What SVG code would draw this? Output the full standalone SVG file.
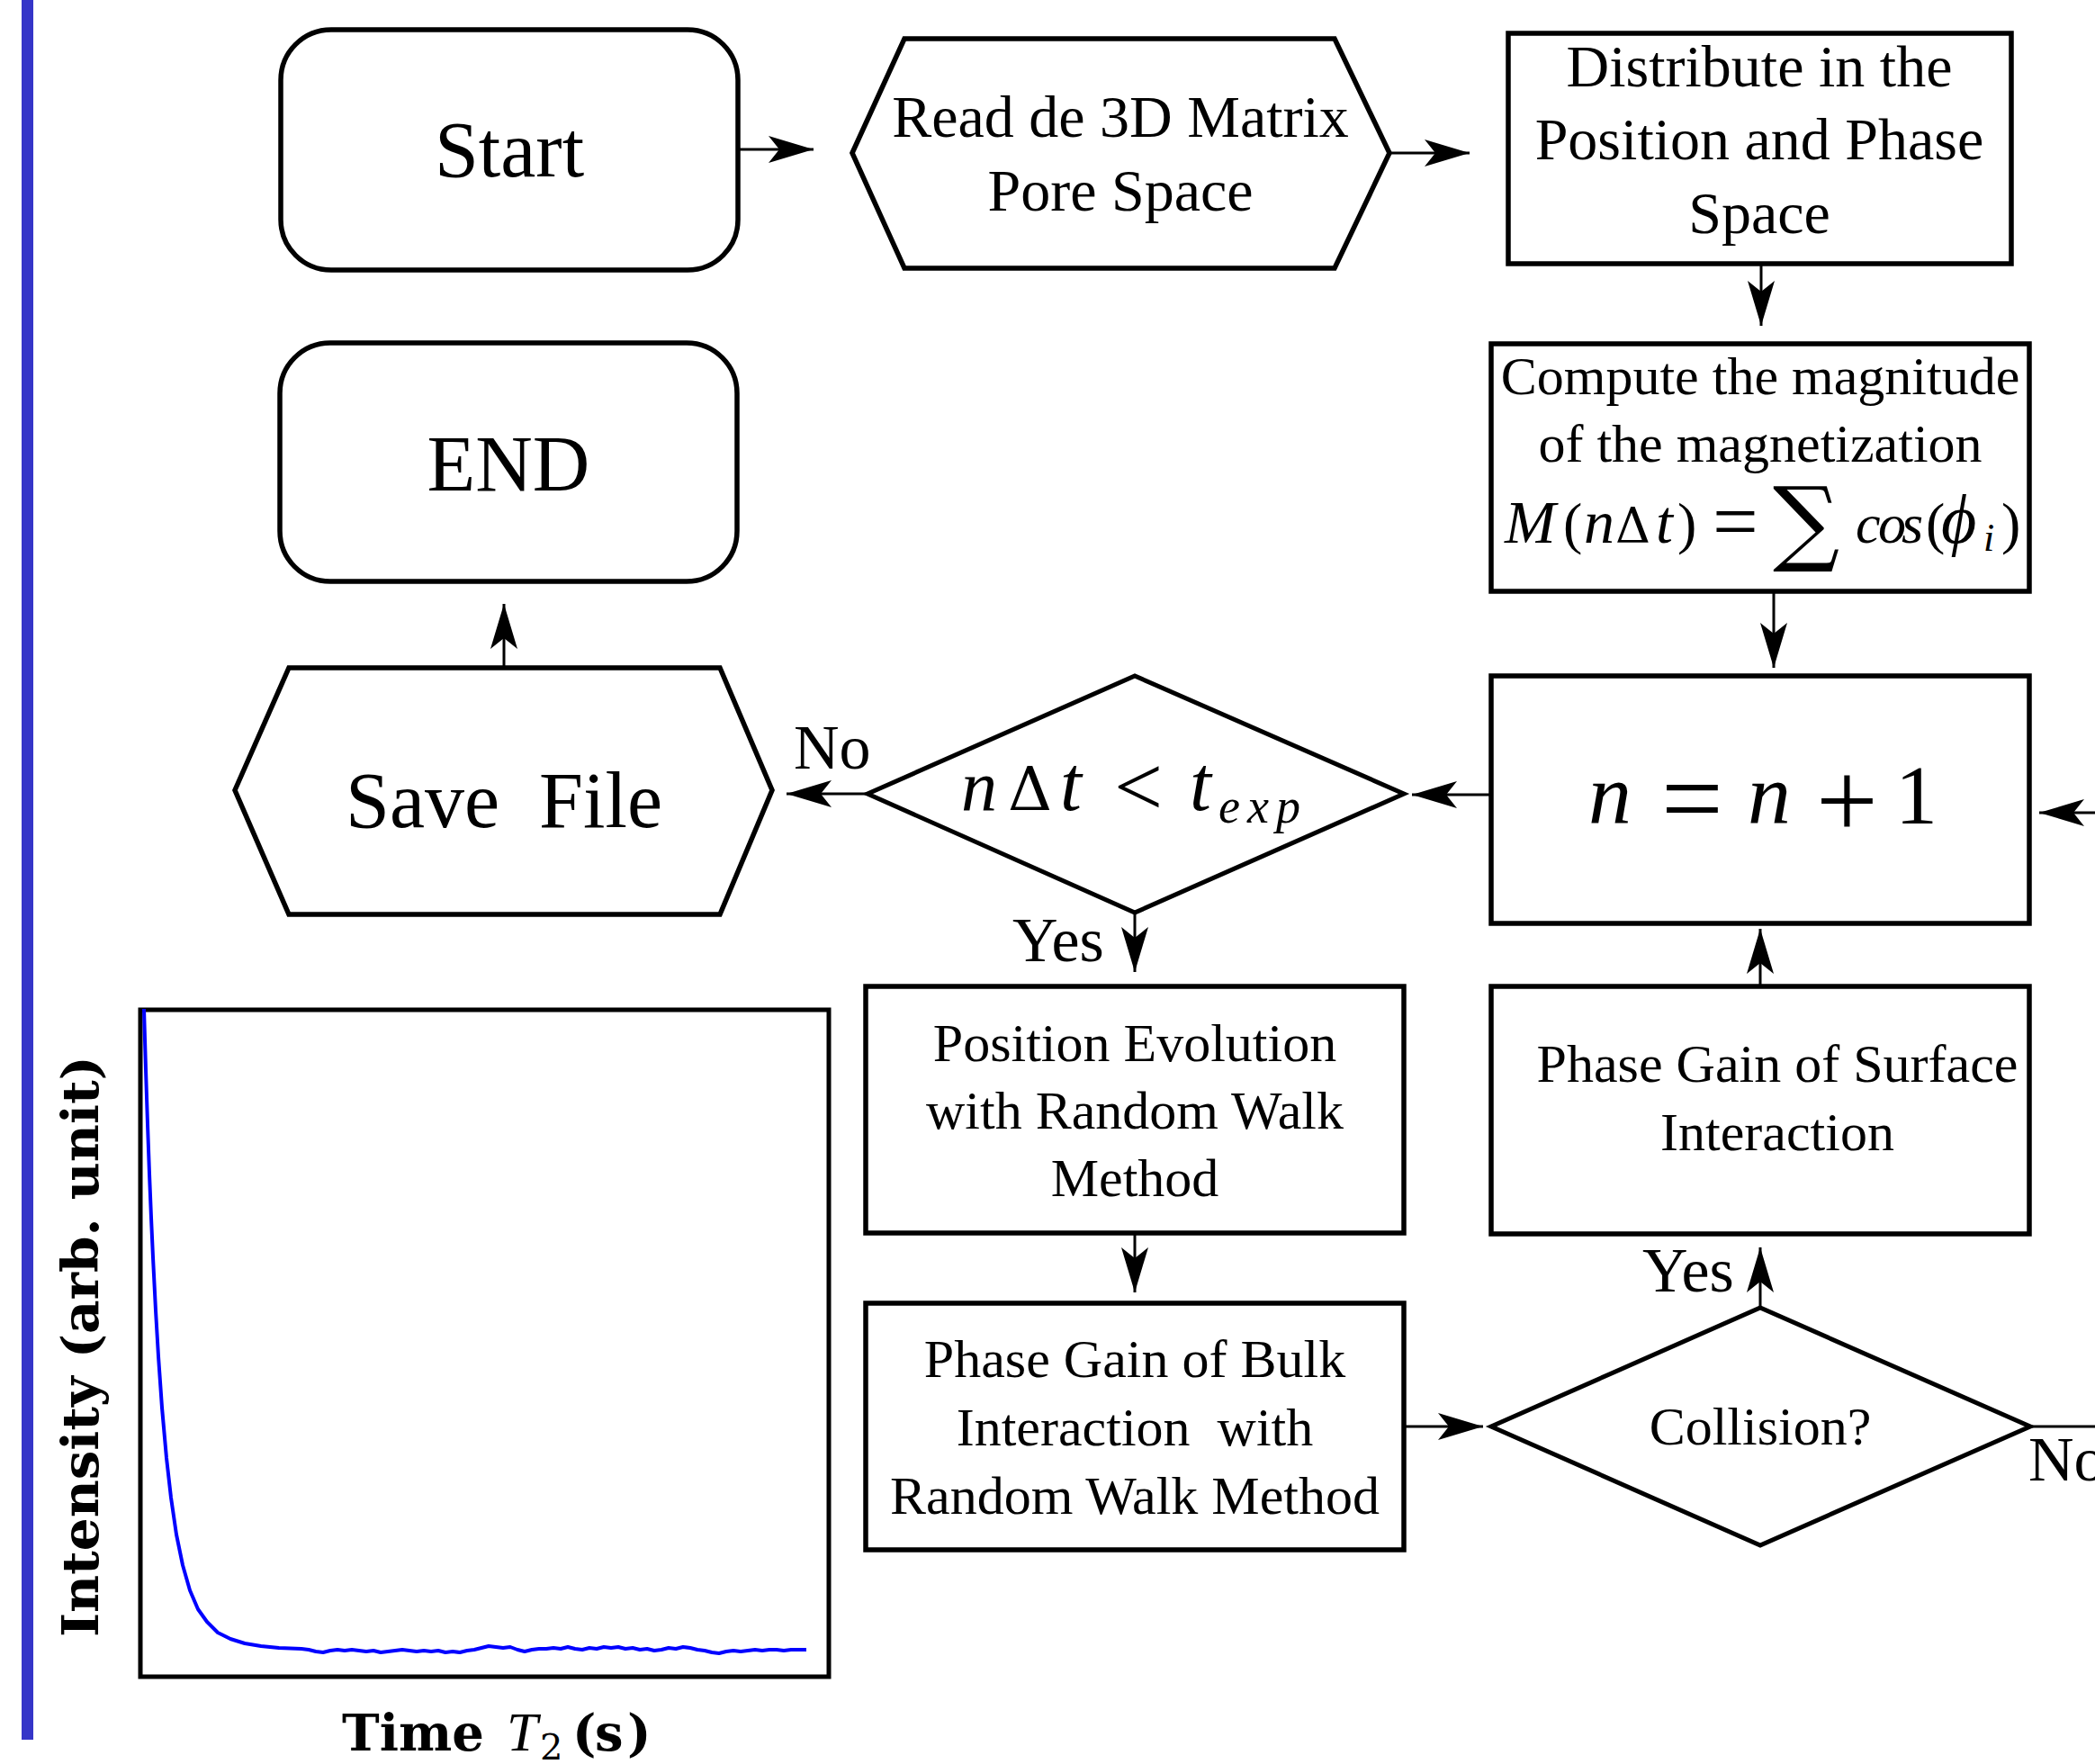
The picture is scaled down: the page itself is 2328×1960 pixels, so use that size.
<svg xmlns="http://www.w3.org/2000/svg" width="2328" height="1960" viewBox="0 0 2328 1960">
<style>
.node{fill:#fff;stroke:#000;stroke-width:5.5;stroke-linejoin:miter}
.dia{fill:#fff;stroke:#000;stroke-width:5}
.conn{stroke:#000;stroke-width:3;fill:none;marker-end:url(#ah)}
.plain{stroke:#000;stroke-width:3;fill:none}
.tx{font-family:"Liberation Serif","Times New Roman",serif;fill:#000;text-anchor:middle}
.big{font-size:88px}
.mid{font-size:66px}
.sm{font-size:60px}
.lbl{font-family:"Liberation Serif","Times New Roman",serif;font-size:70px;fill:#000}
.mi{font-family:"Liberation Serif","DejaVu Serif",serif;font-style:italic}
.mr{font-family:"Liberation Serif","DejaVu Serif",serif;font-style:normal}
.op{font-family:"DejaVu Serif",serif;font-style:normal}
.ax{font-family:"DejaVu Serif",serif;font-weight:bold;fill:#000}
</style>
<defs>
<marker id="ah" viewBox="0 0 50 30" refX="50" refY="15" markerWidth="50" markerHeight="30" markerUnits="userSpaceOnUse" orient="auto">
<path d="M0,0 L50,15 L0,30 L12,15 Z" fill="#000"/>
</marker>
</defs>
<rect x="0" y="0" width="2328" height="1960" fill="#fff"/>
<rect id="sidebar" x="24" y="0" width="13" height="1933" fill="#3535C8"/>

<g id="connectors">
<line class="conn" x1="820" y1="166" x2="904" y2="166"/>
<line class="conn" x1="1544" y1="170" x2="1633" y2="170"/>
<line class="conn" x1="1957" y1="293" x2="1957" y2="362"/>
<line class="conn" x1="1971" y1="657" x2="1971" y2="742"/>
<line class="conn" x1="2328" y1="903" x2="2266" y2="903"/>
<line class="conn" x1="1657" y1="883" x2="1569" y2="883"/>
<line class="conn" x1="964" y1="882" x2="874" y2="882"/>
<line class="conn" x1="560" y1="742" x2="560" y2="671"/>
<line class="conn" x1="1261" y1="1014" x2="1261" y2="1080"/>
<line class="conn" x1="1261" y1="1370" x2="1261" y2="1436"/>
<line class="conn" x1="1560" y1="1585" x2="1648" y2="1585"/>
<line class="conn" x1="1956" y1="1453" x2="1956" y2="1386"/>
<line class="conn" x1="1956" y1="1096" x2="1956" y2="1032"/>
<line class="plain" x1="2256" y1="1585" x2="2328" y2="1585"/>
<text class="lbl" x="882" y="854">No</text>
<text class="lbl" x="1125" y="1068">Yes</text>
<text class="lbl" x="1825" y="1435">Yes</text>
<text class="lbl" x="2254" y="1645">No</text>
</g>

<g id="start">
<rect class="node" x="312" y="33" width="508" height="267" rx="56" ry="56"/>
<text class="tx big" x="566" y="196">Start</text>
</g>

<g id="end">
<rect class="node" x="311" y="381" width="508" height="265" rx="56" ry="56"/>
<text class="tx big" x="565" y="545">END</text>
</g>

<g id="read">
<polygon class="node" points="947,170 1005,43 1483,43 1544,170 1483,298 1005,298"/>
<text class="tx mid" x="1245" y="152">Read de 3D Matrix</text>
<text class="tx mid" x="1245" y="234">Pore Space</text>
</g>

<g id="distribute">
<rect class="node" x="1676" y="37" width="559" height="256"/>
<text class="tx mid" x="1955" y="96">Distribute in the</text>
<text class="tx mid" x="1955" y="177">Position and Phase</text>
<text class="tx mid" x="1955" y="259">Space</text>
</g>

<g id="compute">
<rect class="node" x="1657" y="382" width="598" height="275"/>
<text class="tx sm" x="1956" y="438">Compute the magnitude</text>
<text class="tx sm" x="1956" y="513">of the magnetization</text>
<text font-size="68" y="603" fill="#000"><tspan class="mi" x="1672" y="603">M</tspan><tspan class="mr" x="1737" y="603" font-size="64">(</tspan><tspan class="mi" x="1760" y="603">n</tspan><tspan class="op" x="1795" y="603" font-size="54">Δ</tspan><tspan class="mi" x="1840" y="603">t</tspan><tspan class="mr" x="1864" y="603" font-size="64">)</tspan><tspan class="mr" x="1903" y="610" font-size="90">=</tspan><tspan class="op" x="1970" y="615" font-size="104">∑</tspan><tspan class="mi" x="2062 2087 2113" y="603" font-size="62">cos</tspan><tspan class="mr" x="2140" y="603" font-size="64">(</tspan><tspan class="mi" x="2157" y="603" font-size="76">ϕ</tspan><tspan class="mi" x="2204" y="612" font-size="44">i</tspan><tspan class="mr" x="2224" y="603" font-size="64">)</tspan></text>
</g>

<g id="increment">
<rect class="node" x="1657" y="751" width="598" height="275"/>
<text font-size="96" y="915" fill="#000"><tspan class="mi" x="1765" y="915">n</tspan><tspan class="mr" x="1846" y="928" font-size="122">=</tspan><tspan class="mi" x="1942" y="915">n</tspan><tspan class="mr" x="2018" y="931" font-size="122">+</tspan><tspan class="mr" x="2106" y="915" font-size="94">1</tspan></text>
</g>

<g id="time-check">
<polygon class="dia" points="964,882 1261,751 1560,882 1261,1014"/>
<text font-size="80" y="900" fill="#000"><tspan class="mi" x="1068" y="900">n</tspan><tspan class="op" x="1120" y="900" font-size="68">Δ</tspan><tspan class="mi" x="1178" y="900" font-size="86">t</tspan><tspan class="mr" x="1238" y="906" font-size="96">&lt;</tspan><tspan class="mi" x="1322" y="900" font-size="86">t</tspan><tspan class="mi" x="1354 1386 1418" y="914" font-size="54">exp</tspan></text>
</g>

<g id="save">
<polygon class="node" points="261,878 321,742 800,742 858,878 800,1016 321,1016"/>
<text class="tx big" x="560" y="919" xml:space="preserve">Save  File</text>
</g>

<g id="position">
<rect class="node" x="962" y="1096" width="598" height="274"/>
<text class="tx sm" x="1261" y="1179">Position Evolution</text>
<text class="tx sm" x="1261" y="1254">with Random Walk</text>
<text class="tx sm" x="1261" y="1329">Method</text>
</g>

<g id="bulk">
<rect class="node" x="962" y="1448" width="598" height="274"/>
<text class="tx sm" x="1261" y="1530">Phase Gain of Bulk</text>
<text class="tx sm" x="1261" y="1606" xml:space="preserve">Interaction  with</text>
<text class="tx sm" x="1261" y="1682">Random Walk Method</text>
</g>

<g id="collision">
<polygon class="dia" points="1657,1585 1956,1453 2256,1585 1956,1717"/>
<text class="tx sm" x="1956" y="1605">Collision?</text>
</g>

<g id="surface">
<rect class="node" x="1657" y="1096" width="598" height="275"/>
<text class="tx sm" x="1975" y="1202">Phase Gain of Surface</text>
<text class="tx sm" x="1975" y="1278">Interaction</text>
</g>

<g id="plot">
<rect x="156" y="1122" width="765" height="741" fill="none" stroke="#000" stroke-width="5"/>
<polyline fill="none" stroke="#0000FF" stroke-width="4" stroke-linejoin="round" points="160,1121 161,1155 162,1188 163,1219 164,1249 166,1304 168,1353 170,1397 173,1456 176,1507 180,1564 185,1620 190,1664 196,1705 203,1739 211,1767 220,1788 230,1802 242,1814 256,1821 272,1826 290,1829 310,1831 335,1832 343,1833 351,1835 359,1836 367,1834 375,1833 383,1834 391,1833 399,1834 407,1835 415,1834 423,1836 431,1835 439,1834 447,1833 455,1834 463,1835 471,1834 479,1835 487,1834 495,1836 503,1835 511,1836 519,1834 527,1833 535,1831 543,1829 551,1830 559,1831 567,1830 575,1833 583,1835 591,1833 599,1832 607,1832 615,1831 623,1832 631,1830 639,1832 647,1833 655,1831 663,1832 671,1830 679,1831 687,1830 695,1832 703,1831 711,1833 719,1832 727,1834 735,1833 743,1831 751,1832 759,1830 767,1831 775,1833 783,1834 791,1836 799,1837 807,1835 815,1834 823,1835 831,1834 839,1833 847,1834 855,1833 863,1833 871,1834 879,1833 887,1833 896,1833"/>
<text class="ax" font-size="56" transform="translate(109,1496) rotate(-90)" text-anchor="middle" textLength="646" lengthAdjust="spacingAndGlyphs">Intensity (arb. unit)</text>
<text class="ax" font-size="56" y="1945"><tspan x="380" y="1945">Time</tspan><tspan x="563" y="1945" font-weight="normal" font-style="italic" font-family="Liberation Serif,serif" font-size="62">T</tspan><tspan x="600" y="1955" font-weight="normal" font-size="40">2</tspan><tspan x="636 661 697" y="1945">(s)</tspan></text>
</g>
</svg>
